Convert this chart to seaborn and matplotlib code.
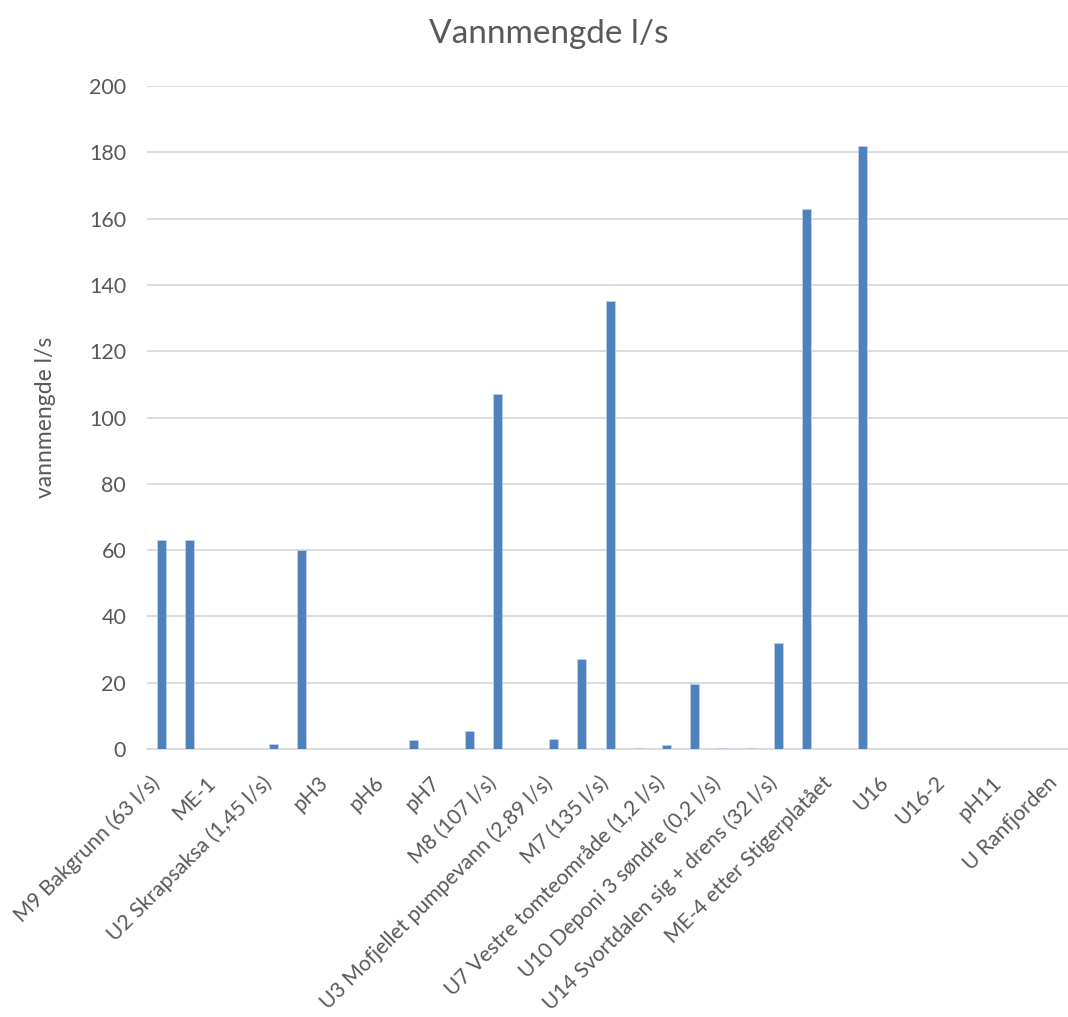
import pandas as pd
import matplotlib
matplotlib.use("Agg")
import matplotlib.pyplot as plt
import matplotlib.transforms as mtransforms
import seaborn as sns

# kategorier (bare annenhver vises som etikett på x-aksen)
kategorier = [
    "M9 Bakgrunn (63 l/s)", "M9 Bakgrunn 2",
    "ME-1", "ME-1 b",
    "U2 Skrapsaksa (1,45 l/s)", "U2 Skrapsaksa b",
    "pH3", "pH3 b",
    "pH6", "pH6 b",
    "pH7", "pH7 b",
    "M8 (107 l/s)", "M8 b",
    "U3 Mofjellet pumpevann (2,89 l/s)", "U3 Mofjellet b",
    "M7 (135 l/s)", "M7 b",
    "U7 Vestre tomteområde (1,2 l/s)", "U7 Vestre b",
    "U10 Deponi 3 søndre (0,2 l/s)", "U10 Deponi b",
    "U14 Svortdalen sig + drens (32 l/s)", "U14 Svortdalen b",
    "ME-4 etter Stigerplatået", "ME-4 b",
    "U16", "U16 b",
    "U16-2", "U16-2 b",
    "pH11", "pH11 b",
    "U Ranfjorden",
]
vannmengde = [
    63, 63,
    0, 0,
    1.45, 60,
    0, 0,
    0, 2.8,
    0, 5.5,
    107, 0,
    2.89, 27,
    135, 0.4,
    1.2, 19.5,
    0.2, 0.2,
    32, 163,
    0, 182,
    0, 0,
    0, 0,
    0, 0,
    0,
]
yticks = list(range(0, 201, 20))

df = pd.DataFrame({"kategori": kategorier, "vannmengde": vannmengde})

sns.set_theme(style="white")
plt.rcParams["font.family"] = ["Lato", "DejaVu Sans"]
grå = "#595959"

fig = plt.figure(figsize=(10.68, 10.17), dpi=100)
ax = fig.add_axes([147 / 1068, 268 / 1017, 921 / 1068, 663 / 1017])

sns.barplot(data=df, x="kategori", y="vannmengde", color="#4F81BD",
            saturation=1, width=0.32, edgecolor="#BDD0EA", linewidth=0.6,
            ax=ax, zorder=3)

ax.set_ylim(0, 200)
ax.set_yticks(yticks)
ax.set_xlim(-0.5, 32.32)
ax.yaxis.grid(True, color="#D9D9D9", linewidth=1.3, zorder=0)
ax.set_axisbelow(True)
for side in ["top", "right", "left"]:
    ax.spines[side].set_visible(False)
ax.spines["bottom"].set_color("#D9D9D9")
ax.spines["bottom"].set_linewidth(1.3)

ax.tick_params(axis="x", length=0, pad=17)
ax.tick_params(axis="y", length=0, pad=15, labelsize=15.5, labelcolor=grå)

pos = list(range(0, len(kategorier), 2))
ax.set_xticks(pos)
ax.set_xticklabels([kategorier[i] for i in pos], rotation=45, ha="right",
                   va="top", rotation_mode="anchor", fontsize=15.2, color=grå)
# flytt etikettene litt til venstre, som i Excel
forskyv = mtransforms.ScaledTranslation(-0.12, 0, fig.dpi_scale_trans)
for tick in ax.xaxis.get_major_ticks():
    tick.label1.set_transform(tick.label1.get_transform() + forskyv)

ax.set_xlabel("")
ax.set_ylabel("vannmengde l/s", fontsize=16.5, color=grå, labelpad=24)
fig.text(0.514, 0.967, "Vannmengde l/s", ha="center", va="center",
         fontsize=24, color=grå)

fig.savefig("out.png", dpi=100)
